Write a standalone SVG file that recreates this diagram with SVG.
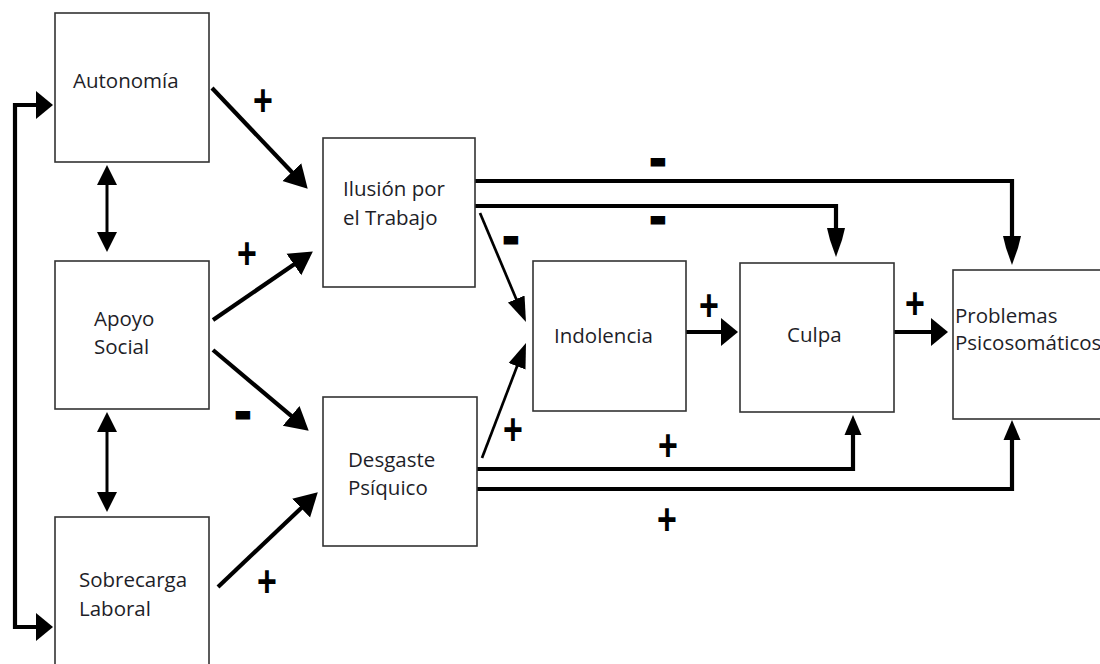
<svg xmlns="http://www.w3.org/2000/svg" width="1100" height="664" viewBox="0 0 1100 664">
  <style>
    .box { fill: #ffffff; stroke: #333333; stroke-width: 1.6; }
    .lbl { font-family: "Open Sans", "Noto Sans", sans-serif; font-size: 20.5px; fill: #1e1e28; }
    .thick { fill: none; stroke: #000; stroke-width: 4.2; stroke-linejoin: miter; }
    .mid { fill: none; stroke: #000; stroke-width: 3; }
    .thin { fill: none; stroke: #000; stroke-width: 2.7; }
    .sgn { font-family: "Liberation Sans", Arial, sans-serif; font-weight: bold; font-size: 34px; fill: #000; text-anchor: middle; }
    .neg { font-family: "Liberation Sans", Arial, sans-serif; font-weight: bold; font-size: 46px; fill: #000; stroke: #000; stroke-width: 2.8; text-anchor: middle; }
  </style>
  <defs>
    <!-- wide heads on the short horizontal links and the feedback loop -->
    <marker id="hWide" markerUnits="userSpaceOnUse" viewBox="0 -15 18 30" refX="4" refY="0" markerWidth="18" markerHeight="30" orient="auto-start-reverse">
      <path d="M0,-14 L17,0 L0,14 z" fill="#000"/>
    </marker>
    <!-- heads on the diagonal links from the left column -->
    <marker id="hDiag" markerUnits="userSpaceOnUse" viewBox="0 -14 24 28" refX="4" refY="0" markerWidth="24" markerHeight="28" orient="auto">
      <path d="M0,-13 L23,0 L0,13 z" fill="#000"/>
    </marker>
    <!-- slender heads on the thin diagonals into Indolencia -->
    <marker id="hThin" markerUnits="userSpaceOnUse" viewBox="0 -10 26 20" refX="4" refY="0" markerWidth="26" markerHeight="20" orient="auto">
      <path d="M0,-9 L25,0 L0,9 z" fill="#000"/>
    </marker>
    <!-- long heads dropping from the top routes -->
    <marker id="hLong" markerUnits="userSpaceOnUse" viewBox="0 -10 30 20" refX="4" refY="0" markerWidth="30" markerHeight="20" orient="auto">
      <path d="M0,-9 L12,-6 L29,0 L12,6 L0,9 z" fill="#000"/>
    </marker>
    <!-- short heads rising from the bottom routes -->
    <marker id="hUp" markerUnits="userSpaceOnUse" viewBox="0 -10 21 20" refX="4" refY="0" markerWidth="21" markerHeight="20" orient="auto">
      <path d="M0,-8.5 L20,0 L0,8.5 z" fill="#000"/>
    </marker>
    <!-- heads of the two-way links in the left column -->
    <marker id="hBoth" markerUnits="userSpaceOnUse" viewBox="0 -11 21 22" refX="4" refY="0" markerWidth="21" markerHeight="22" orient="auto-start-reverse">
      <path d="M0,-10 L20,0 L0,10 z" fill="#000"/>
    </marker>
  </defs>

  <g id="connectors">
    <!-- feedback loop Autonomía / Sobrecarga -->
    <path class="thick" d="M40,105 H15 V627 H40" marker-start="url(#hWide)" marker-end="url(#hWide)"/>
    <!-- two-way links between left boxes -->
    <line class="mid" x1="107" y1="181" x2="107" y2="236" marker-start="url(#hBoth)" marker-end="url(#hBoth)"/>
    <line class="mid" x1="107" y1="428" x2="107" y2="496" marker-start="url(#hBoth)" marker-end="url(#hBoth)"/>
    <!-- left column into Ilusión / Desgaste -->
    <line class="thick" x1="212" y1="88" x2="294.6" y2="175" marker-end="url(#hDiag)"/>
    <line class="thick" x1="213" y1="320" x2="297.2" y2="262.2" marker-end="url(#hDiag)"/>
    <line class="thick" x1="213" y1="350" x2="294.2" y2="418.4" marker-end="url(#hDiag)"/>
    <line class="thick" x1="218" y1="587" x2="304" y2="505.4" marker-end="url(#hDiag)"/>
    <!-- Ilusión routes -->
    <polyline class="thick" points="475,181 1012,181 1012,240" marker-end="url(#hLong)"/>
    <polyline class="thick" points="475,206 836,206 836,232" marker-end="url(#hLong)"/>
    <line class="thin" x1="480" y1="213" x2="517.8" y2="302.7" marker-end="url(#hThin)"/>
    <!-- Desgaste routes -->
    <line class="thin" x1="482" y1="458" x2="518.5" y2="362.6" marker-end="url(#hThin)"/>
    <polyline class="thick" points="477,469 853,469 853,431" marker-end="url(#hUp)"/>
    <polyline class="thick" points="477,489 1012,489 1012,436" marker-end="url(#hUp)"/>
    <!-- chain Indolencia → Culpa → Problemas -->
    <line class="thick" x1="686" y1="332" x2="725" y2="332" marker-end="url(#hWide)"/>
    <line class="thick" x1="894" y1="332" x2="935" y2="332" marker-end="url(#hWide)"/>
    <!-- small tick beside Desgaste -->
    <line x1="468" y1="484" x2="468" y2="493" stroke="#555" stroke-width="1"/>
  </g>

  <g id="signs">
    <text class="sgn" transform="translate(263,101) scale(1,1.3)" y="11.6">+</text>
    <text class="sgn" transform="translate(247,254) scale(1,1.3)" y="11.6">+</text>
    <text class="sgn" transform="translate(267,582) scale(1,1.3)" y="11.6">+</text>
    <text class="sgn" transform="translate(513,430) scale(1,1.3)" y="11.6">+</text>
    <text class="sgn" transform="translate(709,306) scale(1,1.3)" y="11.6">+</text>
    <text class="sgn" transform="translate(915,304) scale(1,1.3)" y="11.6">+</text>
    <text class="sgn" transform="translate(668,446) scale(1,1.3)" y="11.6">+</text>
    <text class="sgn" transform="translate(667,520) scale(1,1.3)" y="11.6">+</text>
    <text class="neg" x="658" y="174">-</text>
    <text class="neg" x="658" y="232">-</text>
    <text class="neg" x="511" y="252">-</text>
    <text class="neg" x="243" y="427">-</text>
  </g>

  <g id="autonomia">
    <rect class="box" x="55" y="13" width="154" height="149"/>
    <text class="lbl" x="73" y="88">Autonomía</text>
  </g>
  <g id="apoyo-social">
    <rect class="box" x="55" y="261" width="154" height="148"/>
    <text class="lbl" x="94" y="326">Apoyo</text>
    <text class="lbl" x="94" y="354">Social</text>
  </g>
  <g id="sobrecarga-laboral">
    <rect class="box" x="55" y="517" width="154" height="160"/>
    <text class="lbl" x="79" y="587">Sobrecarga</text>
    <text class="lbl" x="79" y="616">Laboral</text>
  </g>
  <g id="ilusion-trabajo">
    <rect class="box" x="323" y="138" width="152" height="149"/>
    <text class="lbl" x="343" y="196">Ilusión por</text>
    <text class="lbl" x="343" y="225">el Trabajo</text>
  </g>
  <g id="desgaste-psiquico">
    <rect class="box" x="323" y="397" width="154" height="149"/>
    <text class="lbl" x="348" y="467">Desgaste</text>
    <text class="lbl" x="348" y="495">Psíquico</text>
  </g>
  <g id="indolencia">
    <rect class="box" x="533" y="261" width="153" height="150"/>
    <text class="lbl" x="554" y="343">Indolencia</text>
  </g>
  <g id="culpa">
    <rect class="box" x="740" y="263" width="154" height="149"/>
    <text class="lbl" x="787" y="342">Culpa</text>
  </g>
  <g id="problemas-psicosomaticos">
    <rect class="box" x="953" y="270" width="160" height="149"/>
    <text class="lbl" x="955" y="323">Problemas</text>
    <text class="lbl" x="955" y="350">Psicosomáticos</text>
  </g>
</svg>
